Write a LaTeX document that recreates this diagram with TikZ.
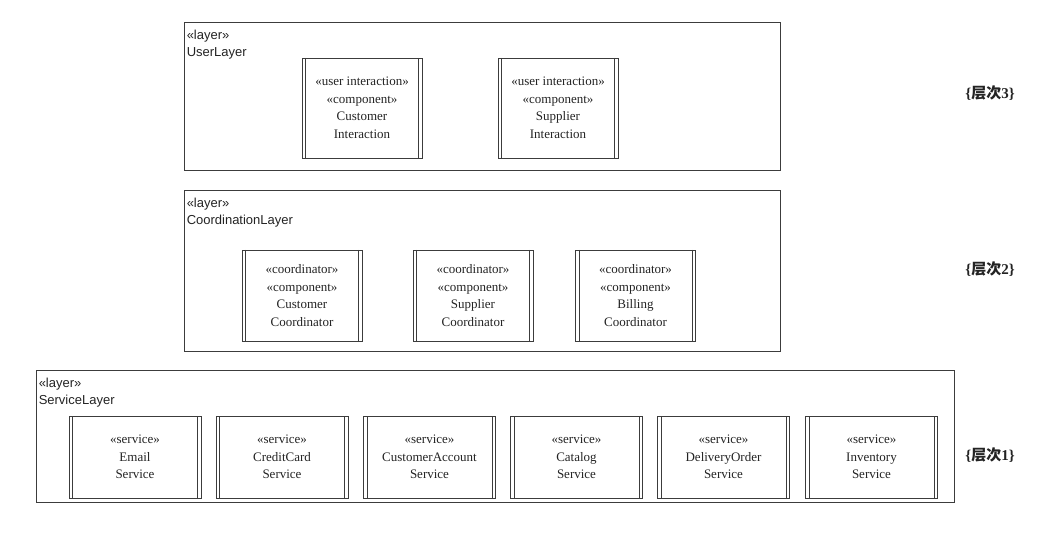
\documentclass[tikz,border=0pt]{standalone}
\usepackage{fontspec}
\setmainfont{Liberation Serif}
\newfontfamily\layerfont{Liberation Sans}
\newfontfamily\cjkfont{Noto Sans CJK SC}
\usetikzlibrary{positioning}
\definecolor{lineGray}{RGB}{60,60,60}
\definecolor{textGray}{RGB}{35,35,35}
\tikzset{
  layerbox/.style={draw=lineGray, line width=0.9pt, inner sep=0pt},
  layertag/.style={anchor=north west, inner sep=0pt, align=left,
    text=textGray, font=\layerfont\fontsize{13}{17.5}\selectfont},
  compbox/.style={draw=lineGray, line width=0.8pt, inner sep=0pt,
    align=center, text=textGray, font=\fontsize{13}{17.5}\selectfont,
    path picture={
      \draw[lineGray, line width=0.8pt]
        ([xshift=3.5pt]path picture bounding box.north west)
        -- ([xshift=3.5pt]path picture bounding box.south west)
        ([xshift=-3.5pt]path picture bounding box.north east)
        -- ([xshift=-3.5pt]path picture bounding box.south east);
    }},
  leveltag/.style={inner sep=0pt, text=textGray,
    font=\bfseries\fontsize{15}{17}\selectfont},
}
\newcommand{\cjklevel}[1]{\{{\cjkfont\bfseries 层次}#1\}}

\begin{document}
\begin{tikzpicture}[x=1pt, y=-1pt]
    \useasboundingbox (0,0) rectangle (1037,540);
    % layers
    \node[layerbox, minimum width=596pt, minimum height=148pt]
      (user) at (482,96) {};
    \node[layerbox, minimum width=596pt, minimum height=161pt]
      (coord) at (482,270.5) {};
    \node[layerbox, minimum width=918pt, minimum height=132pt]
      (service) at (495,436) {};
    \foreach \lay/\lab in {user/UserLayer, coord/CoordinationLayer,
        service/ServiceLayer} {
      \node[layertag] (\lay tag) at ([xshift=3pt, yshift=-8pt]\lay.north west)
        {«layer»\\\lab};
    }
    % user layer
    \node[compbox, minimum width=120pt, minimum height=100pt]
      (custint) at (362,108)
      {«user interaction»\\«component»\\Customer\\Interaction};
    \node[compbox, minimum width=120pt, minimum height=100pt]
      (suppint) at (558,108)
      {«user interaction»\\«component»\\Supplier\\Interaction};
    % coordination layer
    \foreach \x/\nm/\lab in {302/custcoord/Customer, 473/suppcoord/Supplier,
        635.5/billcoord/Billing} {
      \node[compbox, minimum width=120pt, minimum height=91pt]
        (\nm) at (\x,295.5)
        {«coordinator»\\«component»\\\lab\\Coordinator};
    }
    % service layer
    \foreach \x/\nm/\lab in {135/email/Email, 282/credit/CreditCard,
        429.5/account/CustomerAccount, 576.5/catalog/Catalog,
        723.5/delivery/DeliveryOrder, 871.5/inventory/Inventory} {
      \node[compbox, minimum width=132pt, minimum height=82pt]
        (\nm) at (\x,457)
        {«service»\\\lab\\Service};
    }
    % levels
    \node[leveltag] (lvthree) at (990,93) {\cjklevel{3}};
    \node[leveltag] (lvtwo) at (990,269) {\cjklevel{2}};
    \node[leveltag] (lvone) at (990,455) {\cjklevel{1}};
  \end{tikzpicture}
\end{document}
